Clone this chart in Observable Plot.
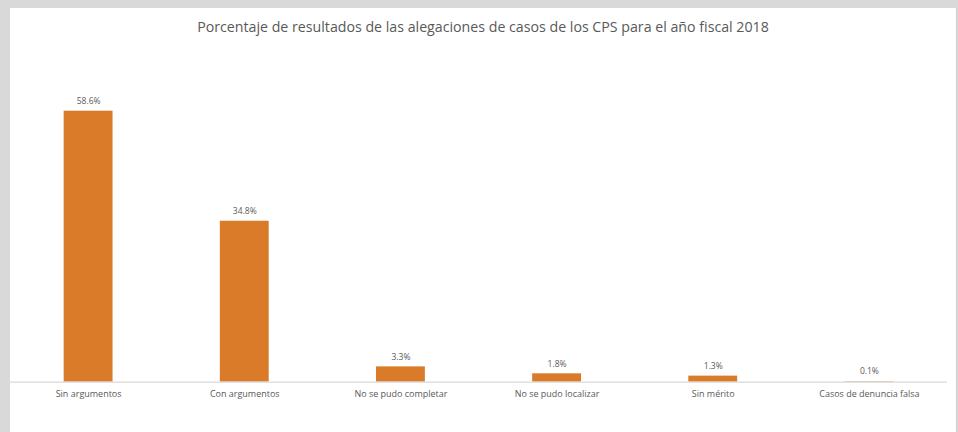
<!DOCTYPE html>
<html>
<head>
<meta charset="utf-8">
<script src="https://cdn.jsdelivr.net/npm/d3@7"></script>
<script src="https://cdn.jsdelivr.net/npm/@observablehq/plot@0.6"></script>
<style>
  html, body { margin: 0; padding: 0; background: #d9d9d9; width: 958px; height: 432px; overflow: hidden; }
  #card { position: absolute; left: 10px; top: 8px; width: 946px; height: 424px; background: #ffffff; border-right: 1px solid #cfcfcf; }
  #title { height: 38px; line-height: 38px; text-align: center; font-family: "Open Sans", sans-serif; font-size: 14.2px; color: #595959; white-space: nowrap; }
</style>
</head>
<body>
<div id="card">
  <div id="title">Porcentaje de resultados de las alegaciones de casos de los CPS para el año fiscal 2018</div>
  <div id="chart"></div>
</div>
<script>
const categories = ["Sin argumentos", "Con argumentos", "No se pudo completar", "No se pudo localizar", "Sin mérito", "Casos de denuncia falsa"];
const values = [58.6, 34.8, 3.3, 1.8, 1.3, 0.1];
const labels = ["58.6%", "34.8%", "3.3%", "1.8%", "1.3%", "0.1%"];

const data = categories.map((c, i) => ({category: c, value: values[i], label: labels[i]}));

const chart = Plot.plot({
  width: 947,
  height: 386,
  marginTop: 12,
  marginBottom: 50,
  marginLeft: 0,
  marginRight: 9,
  style: {fontFamily: "'Open Sans', sans-serif", fontSize: "9px", color: "#595959", background: "transparent"},
  x: {domain: categories, paddingInner: 0.687, paddingOuter: 0.3435, round: false, label: null, tickSize: 0, tickPadding: 8},
  y: {domain: [0, 70], axis: null},
  marks: [
    Plot.barY(data, {x: "category", y: "value", fill: "#da7b2a"}),
    Plot.ruleY([0], {stroke: "#d9d9d9", strokeWidth: 1.2}),
    Plot.text(data, {x: "category", y: "value", text: "label", dy: -10, fill: "#595959", fontSize: 8.5})
  ]
});
document.getElementById("chart").appendChild(chart);
</script>
</body>
</html>
